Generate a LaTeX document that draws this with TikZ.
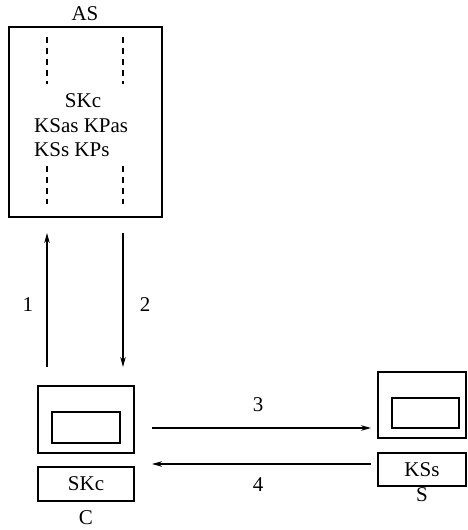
\documentclass[tikz,border=0pt]{standalone}
\usepackage{fontspec}
\setmainfont{Liberation Serif}
\usetikzlibrary{arrows.meta}
\begin{document}
\begin{tikzpicture}[x=1pt,y=-1pt,
  box/.style={draw,line width=1.3pt,inner sep=0pt},
  txt/.style={font=\fontsize{21}{24}\selectfont,inner sep=0pt},
  dsh/.style={line width=1.3pt,dash pattern=on 6pt off 5pt},
  arr/.style={line width=1.3pt,-{Stealth[length=10pt,width=5.5pt]}}]
\useasboundingbox (0,0) rectangle (467,530);
% AS
\node[box,minimum width=153pt,minimum height=190pt] (as) at (85.5,122) {};
\node[txt] (aslbl) at (85,14) {AS};
\draw[dsh] (47,37) -- (47,84);
\draw[dsh] (123,37) -- (123,84);
\draw[dsh] (47,166) -- (47,204);
\draw[dsh] (123,166) -- (123,204);
\node[txt] (t1) at (83,101) {SKc};
\node[txt,anchor=west] (t2) at (34,126) {KSas KPas};
\node[txt,anchor=west] (t3) at (34,150) {KSs KPs};
\coordinate (asb1) at (47,233);
\coordinate (asb2) at (123,233);
% C
\node[box,minimum width=96pt,minimum height=67pt] (cout) at (86,419.5) {};
\node[box,minimum width=68pt,minimum height=31pt] (cin) at (86,427.5) {};
\node[box,minimum width=96pt,minimum height=34pt,txt] (skc) at (86,484) {SKc};
\node[txt] (clbl) at (86,518) {C};
\coordinate (c1) at (47,367);
\coordinate (c2) at (123,367);
% S
\node[box,minimum width=88pt,minimum height=66pt] (sout) at (422,405) {};
\node[box,minimum width=67pt,minimum height=30pt] (sin) at (425.5,413) {};
\node[box,minimum width=88pt,minimum height=33pt,txt] (kss) at (422,469.5) {KSs};
\node[txt] (slbl) at (422,495) {S};
% arrows
\coordinate (a3s) at (152,428);
\coordinate (a3e) at (371,428);
\coordinate (a4s) at (371,464);
\coordinate (a4e) at (152,464);
\draw[arr] (c1) -- (asb1);
\draw[arr] (asb2) -- (c2);
\draw[arr] (a3s) -- (a3e);
\draw[arr] (a4s) -- (a4e);
\node[txt] (l1) at (28,305) {1};
\node[txt] (l2) at (145,305) {2};
\node[txt] (l3) at (258,405) {3};
\node[txt] (l4) at (258,485) {4};
\end{tikzpicture}
\end{document}
